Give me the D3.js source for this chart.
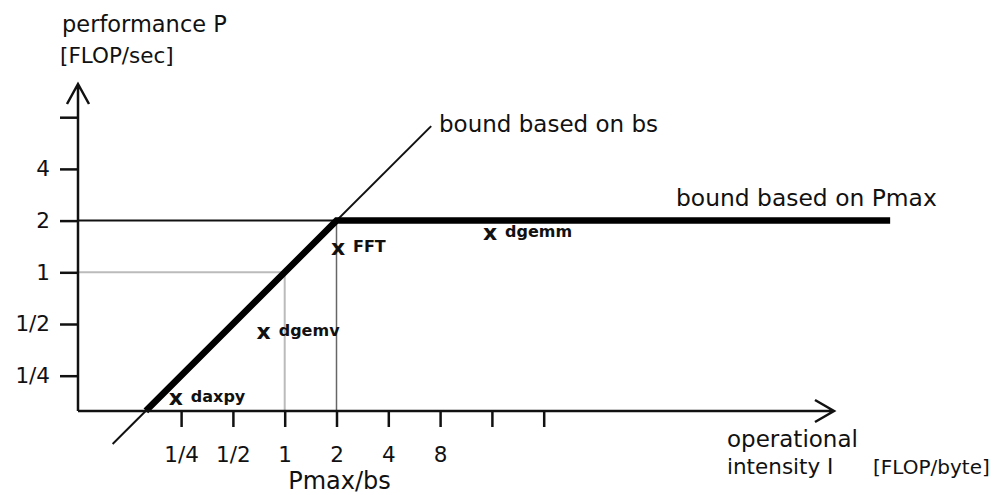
<!DOCTYPE html>
<html>
<head>
<meta charset="utf-8">
<script src="https://cdn.jsdelivr.net/npm/d3@7"></script>
<style>
  body { margin: 0; background: #fff; }
  text { font-family: 'DejaVu Sans', sans-serif; fill: #111; }
</style>
</head>
<body>
<div id="roofline"></div>
<script>
// Roofline model values (log2 axes)
const Pmax = 2;          // peak performance
const bs = 1;            // memory bandwidth (P = bs * I)
const xTicks = [1/4, 1/2, 1, 2, 4, 8, 16, 32];
const xTickLabels = ['1/4', '1/2', '1', '2', '4', '8', '', ''];
const yTicks = [1/4, 1/2, 1, 2, 4, 8];
const yTickLabels = ['1/4', '1/2', '1', '2', '4', ''];
// extent of the thin bs line and of the thick roof line (operational intensity)
const bsLineRange = [0.1, 7.1];
const roofRange = [0.156, 3300];
// kernels: name, operational intensity, performance
const kernelNames = ['daxpy', 'dgemv', 'FFT', 'dgemm'];
const kernelI = [0.233, 0.755, 2.04, 15.6];
const kernelP = [0.183, 0.441, 1.36, 1.68];

const width = 994;
const height = 495;
const axisX = 78;   // y-axis position
const axisY = 411;  // x-axis position

const svg = d3.select('#roofline')
  .append('svg')
  .attr('width', width)
  .attr('height', height);

// log2 scales
const xScale = d3.scaleLog().base(2)
  .domain([1/16, 1024])
  .range([77.5, 802.7]);

const yScale = d3.scaleLog().base(2)
  .domain([1/8, 8])
  .range([427.4, 117.2]);

const line = d3.line()
  .x(d => xScale(d[0]))
  .y(d => yScale(d[1]));

// Guide lines at P = 1 (light grey)
svg.append('path')
  .datum([[1/16, 1], [1, 1]])
  .attr('d', line)
  .attr('fill', 'none')
  .attr('stroke', '#bbb')
  .attr('stroke-width', 2);

svg.append('line')
  .attr('x1', xScale(1)).attr('x2', xScale(1))
  .attr('y1', yScale(1)).attr('y2', axisY)
  .attr('stroke', '#bbb')
  .attr('stroke-width', 2);

// Vertical guide at the ridge point Pmax/bs
svg.append('line')
  .attr('x1', xScale(Pmax / bs)).attr('x2', xScale(Pmax / bs))
  .attr('y1', yScale(Pmax)).attr('y2', axisY)
  .attr('stroke', '#666')
  .attr('stroke-width', 1.5);

// Thin Pmax line from the y axis to the ridge
svg.append('path')
  .datum([[1/16, Pmax], [Pmax / bs, Pmax]])
  .attr('d', line)
  .attr('fill', 'none')
  .attr('stroke', '#111')
  .attr('stroke-width', 2);

// Thin line: bound based on bs
svg.append('path')
  .datum(bsLineRange.map(i => [i, bs * i]))
  .attr('d', line)
  .attr('fill', 'none')
  .attr('stroke', '#111')
  .attr('stroke-width', 2);

// Thick roof: min(Pmax, bs * I)
const roofPoints = [roofRange[0], Pmax / bs, roofRange[1]].map(i => [i, Math.min(Pmax, bs * i)]);
svg.append('path')
  .datum(roofPoints)
  .attr('d', line)
  .attr('fill', 'none')
  .attr('stroke', '#000')
  .attr('stroke-width', 6.5)
  .attr('stroke-linejoin', 'miter');

// Y axis ticks and labels
const yAxis = d3.axisLeft(yScale)
  .tickValues(yTicks)
  .tickSize(18)
  .tickPadding(10)
  .tickFormat((d, i) => yTickLabels[i]);

const gy = svg.append('g')
  .attr('transform', `translate(${axisX},0)`)
  .call(yAxis);
gy.select('.domain').remove();
gy.selectAll('line').attr('stroke', '#111').attr('stroke-width', 2.5);
gy.selectAll('text')
  .style('font-family', "'DejaVu Sans', sans-serif")
  .style('font-size', '21.5px')
  .attr('fill', '#111');

// X axis ticks and labels
const xAxis = d3.axisBottom(xScale)
  .tickValues(xTicks)
  .tickSize(16)
  .tickPadding(20)
  .tickFormat((d, i) => xTickLabels[i]);

const gx = svg.append('g')
  .attr('transform', `translate(0,${axisY})`)
  .call(xAxis);
gx.select('.domain').remove();
gx.selectAll('line').attr('stroke', '#111').attr('stroke-width', 2.5);
gx.selectAll('text')
  .style('font-family', "'DejaVu Sans', sans-serif")
  .style('font-size', '21.5px')
  .attr('fill', '#111');

// Axis lines with open arrow heads
svg.append('path')
  .attr('d', `M${axisX},${axisY} V84 M${axisX - 11},104 L${axisX},84 L${axisX + 11},104`)
  .attr('fill', 'none')
  .attr('stroke', '#111')
  .attr('stroke-width', 2.5);

svg.append('path')
  .attr('d', `M${axisX},${axisY} H834 M815,400 L834,${axisY} L815,422`)
  .attr('fill', 'none')
  .attr('stroke', '#111')
  .attr('stroke-width', 2.5);

// Kernel markers
const kernels = svg.selectAll('.kernel')
  .data(kernelNames)
  .enter()
  .append('g')
  .attr('class', 'kernel')
  .attr('transform', (d, i) => `translate(${xScale(kernelI[i])},${yScale(kernelP[i])})`);

kernels.append('text')
  .attr('text-anchor', 'middle')
  .attr('dy', '0.27em')
  .style('font-size', '22px')
  .style('font-weight', 'bold')
  .text('x');

kernels.append('text')
  .attr('x', 15)
  .attr('y', 3)
  .style('font-size', '16px')
  .style('font-weight', 'bold')
  .text(d => d);

// Annotations
const labels = [
  { text: 'performance P', x: 62, y: 32, size: 22.5 },
  { text: '[FLOP/sec]', x: 60, y: 63, size: 21.5 },
  { text: 'bound based on bs', x: 439, y: 132, size: 23 },
  { text: 'bound based on Pmax', x: 676, y: 206, size: 23.4 },
  { text: 'operational', x: 727, y: 447, size: 23 },
  { text: 'intensity I', x: 727, y: 474, size: 21.5 },
  { text: '[FLOP/byte]', x: 873, y: 474, size: 20 }
];

svg.selectAll('.label')
  .data(labels)
  .enter()
  .append('text')
  .attr('class', 'label')
  .attr('x', d => d.x)
  .attr('y', d => d.y)
  .style('font-size', d => d.size + 'px')
  .text(d => d.text);

// Ridge point label under the x axis
svg.append('text')
  .attr('x', xScale(Pmax / bs) + 3)
  .attr('y', 489)
  .attr('text-anchor', 'middle')
  .style('font-size', '24px')
  .text('Pmax/bs');
</script>
</body>
</html>
